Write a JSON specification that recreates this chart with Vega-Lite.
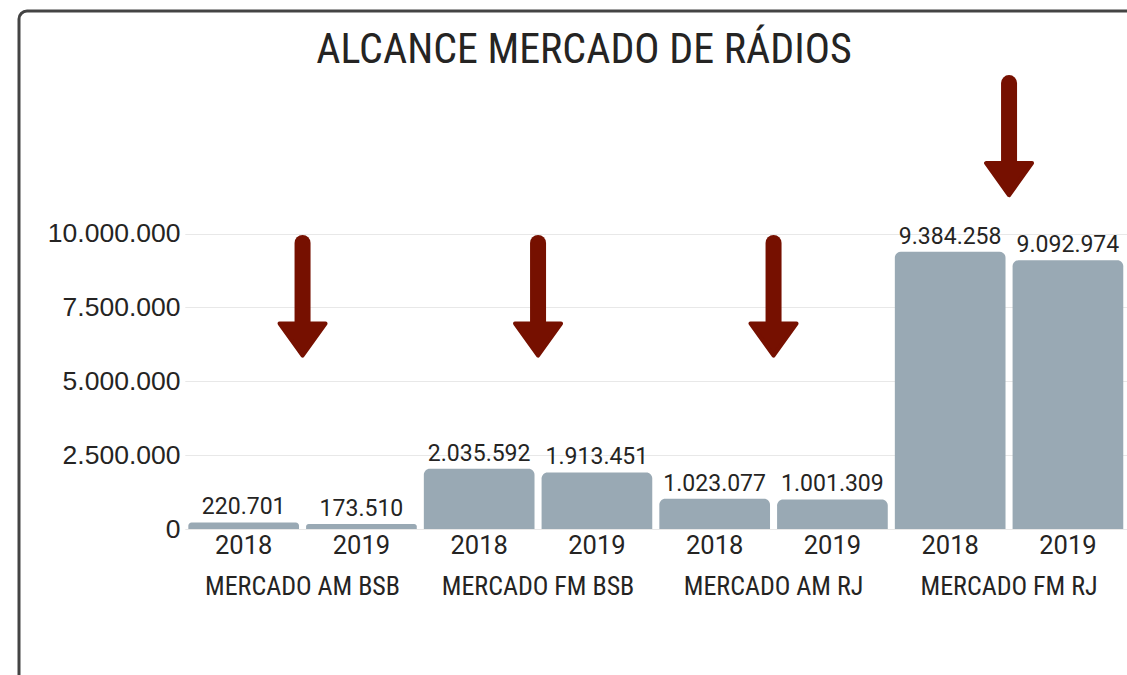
{
  "$schema": "https://vega.github.io/schema/vega-lite/v6.json",
  "width": 1120,
  "height": 680,
  "padding": {"left": 19, "top": 11, "right": 0, "bottom": 0},
  "autosize": {"type": "none"},
  "background": "white",
  "title": {
    "text": "ALCANCE MERCADO DE RÁDIOS",
    "font": "Roboto Condensed, Roboto",
    "fontSize": 42,
    "fontWeight": "normal",
    "color": "#252423",
    "anchor": "middle",
    "frame": "group",
    "offset": -52,
    "baseline": "alphabetic",
    "dx": 5,
    "dy": 42
  },
  "config": {
    "view": {"stroke": "#444444", "strokeWidth": 3, "cornerRadius": 8},
    "locale": {"number": {"decimal": ",", "thousands": ".", "grouping": [3], "currency": ["R$", ""]}}
  },
  "datasets": {
    "bars": [
      {"group": "MERCADO AM BSB", "year": "2018", "value": 220701},
      {"group": "MERCADO AM BSB", "year": "2019", "value": 173510},
      {"group": "MERCADO FM BSB", "year": "2018", "value": 2035592},
      {"group": "MERCADO FM BSB", "year": "2019", "value": 1913451},
      {"group": "MERCADO AM RJ", "year": "2018", "value": 1023077},
      {"group": "MERCADO AM RJ", "year": "2019", "value": 1001309},
      {"group": "MERCADO FM RJ", "year": "2018", "value": 9384258},
      {"group": "MERCADO FM RJ", "year": "2019", "value": 9092974}
    ],
    "arrows": [
      {"group": "MERCADO AM BSB", "top": 9680000, "shaftEnd": 6560000, "head": 6410000},
      {"group": "MERCADO FM BSB", "top": 9680000, "shaftEnd": 6560000, "head": 6410000},
      {"group": "MERCADO AM RJ", "top": 9680000, "shaftEnd": 6560000, "head": 6410000},
      {"group": "MERCADO FM RJ", "top": 15090000, "shaftEnd": 11980000, "head": 11840000}
    ]
  },
  "layer": [
    {
      "data": {"name": "bars"},
      "mark": {"type": "bar", "color": "#99A9B4", "cornerRadiusTopLeft": 6, "cornerRadiusTopRight": 6},
      "encoding": {
        "x": {
          "field": "group", "type": "nominal",
          "sort": ["MERCADO AM BSB", "MERCADO FM BSB", "MERCADO AM RJ", "MERCADO FM RJ"],
          "scale": {"range": [165.8, 1107.8], "paddingInner": 0, "paddingOuter": 0},
          "axis": {
            "title": null, "orient": "bottom", "offset": -162, "domain": false,
            "ticks": false, "tickSize": 0, "labelPadding": 65, "labelBaseline": "alphabetic",
            "labelFont": "Roboto Condensed, Roboto", "labelFontSize": 26, "labelColor": "#252423",
            "labelLimit": 400, "labelOverlap": false,
            "grid": false, "labelAngle": 0
          }
        },
        "xOffset": {"field": "year", "type": "nominal", "scale": {"paddingInner": 0.06, "paddingOuter": 0.03}},
        "y": {
          "field": "value", "type": "quantitative",
          "scale": {"domain": [-5482000, 17530000], "nice": false, "zero": false},
          "axis": {
            "title": null, "offset": -168, "values": [0, 2500000, 5000000, 7500000, 10000000],
            "format": ",d", "domain": false, "ticks": false, "tickSize": 0, "labelPadding": 7,
            "labelFont": "Liberation Sans", "labelFontSize": 26.5, "labelColor": "#252423",
            "grid": true, "gridColor": "#E8E8E8", "gridWidth": 1
          }
        },
        "y2": {"datum": 0}
      }
    },
    {
      "data": {"name": "bars"},
      "mark": {"type": "text", "baseline": "alphabetic", "dy": -8, "font": "Roboto", "fontSize": 23, "color": "#252423"},
      "encoding": {
        "x": {"field": "group", "type": "nominal", "sort": ["MERCADO AM BSB", "MERCADO FM BSB", "MERCADO AM RJ", "MERCADO FM RJ"], "title": null},
        "xOffset": {"field": "year", "type": "nominal"},
        "y": {"field": "value", "type": "quantitative", "title": null},
        "text": {"field": "value", "type": "quantitative", "format": ",d"}
      }
    },
    {
      "data": {"name": "bars"},
      "mark": {"type": "text", "baseline": "alphabetic", "dy": 25, "font": "Roboto", "fontSize": 25.5, "color": "#252423"},
      "encoding": {
        "x": {"field": "group", "type": "nominal", "sort": ["MERCADO AM BSB", "MERCADO FM BSB", "MERCADO AM RJ", "MERCADO FM RJ"], "title": null},
        "xOffset": {"field": "year", "type": "nominal"},
        "y": {"datum": 0, "type": "quantitative", "title": null},
        "text": {"field": "year", "type": "nominal"}
      }
    },
    {
      "data": {"name": "arrows"},
      "mark": {"type": "rule", "color": "#761000", "strokeWidth": 16, "strokeCap": "round"},
      "encoding": {
        "x": {"field": "group", "type": "nominal", "sort": ["MERCADO AM BSB", "MERCADO FM BSB", "MERCADO AM RJ", "MERCADO FM RJ"], "title": null},
        "y": {"field": "top", "type": "quantitative", "title": null},
        "y2": {"field": "shaftEnd"}
      }
    },
    {
      "data": {"name": "arrows"},
      "mark": {"type": "point", "shape": "M-1,-0.7L1,-0.7L0,0.7Z", "size": 2116, "filled": true, "color": "#761000", "opacity": 1, "stroke": "#761000", "strokeWidth": 4, "strokeJoin": "round"},
      "encoding": {
        "x": {"field": "group", "type": "nominal", "sort": ["MERCADO AM BSB", "MERCADO FM BSB", "MERCADO AM RJ", "MERCADO FM RJ"], "title": null},
        "y": {"field": "head", "type": "quantitative", "title": null}
      }
    }
  ]
}
